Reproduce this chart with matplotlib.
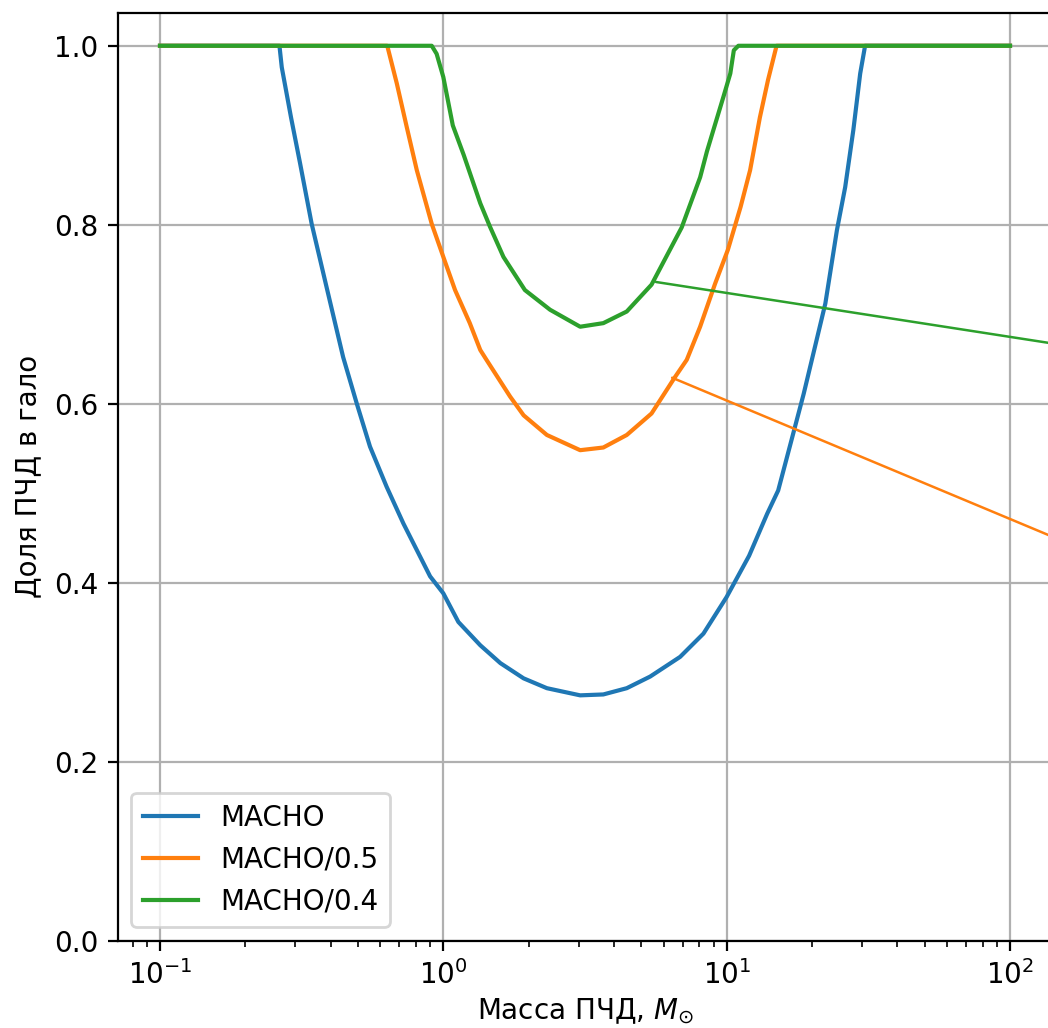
import numpy as np
import matplotlib
matplotlib.use("Agg")
import matplotlib.pyplot as plt

# ============================
# Data
# ============================
mass_macho = [0.1, 0.264, 0.269, 0.290, 0.312, 0.343, 0.388, 0.443, 0.495, 0.551,
              0.631, 0.723, 0.898, 1.0, 1.13, 1.35, 1.59, 1.92, 2.32, 3.04,
              3.67, 4.44, 5.37, 6.85, 8.28, 10.0, 12.0, 13.9, 15.2, 16.7,
              18.7, 20.8, 22.3, 24.5, 26.2, 28.0, 29.6, 30.8, 100.0]
frac_macho = [1.0, 1.0, 0.976, 0.920, 0.869, 0.801, 0.729, 0.652, 0.600, 0.552,
              0.507, 0.466, 0.407, 0.388, 0.356, 0.330, 0.310, 0.293, 0.282, 0.274,
              0.275, 0.282, 0.295, 0.317, 0.343, 0.384, 0.430, 0.477, 0.503, 0.552,
              0.611, 0.672, 0.712, 0.794, 0.842, 0.906, 0.969, 1.0, 1.0]

mass_macho05 = [0.1, 0.634, 0.685, 0.743, 0.806, 0.910, 1.0, 1.10, 1.24, 1.35,
                1.42, 1.72, 1.92, 2.32, 3.04, 3.67, 4.44, 5.43, 6.58, 7.23,
                8.06, 9.10, 10.1, 11.2, 12.1, 13.1, 14.0, 15.0, 100.0]
frac_macho05 = [1.0, 1.0, 0.958, 0.909, 0.861, 0.801, 0.764, 0.727, 0.690, 0.660,
                0.649, 0.608, 0.587, 0.565, 0.548, 0.551, 0.565, 0.589, 0.630, 0.649,
                0.686, 0.734, 0.772, 0.820, 0.861, 0.920, 0.962, 1.0, 1.0]

mass_macho04 = [0.1, 0.910, 0.947, 1.0, 1.08, 1.18, 1.35, 1.46, 1.63, 1.94,
                2.38, 3.04, 3.67, 4.44, 5.43, 6.94, 8.06, 8.52, 8.98, 9.74,
                10.3, 10.6, 11.0, 100.0]
frac_macho04 = [1.0, 1.0, 0.991, 0.965, 0.911, 0.878, 0.824, 0.798, 0.764, 0.727,
                0.705, 0.686, 0.690, 0.703, 0.733, 0.797, 0.853, 0.882, 0.906, 0.943,
                0.969, 0.995, 1.0, 1.0]

series_labels = ["MACHO", "MACHO/0.5", "MACHO/0.4"]

# connector lines leaving the axes to the right
link_points = [(5.63, 0.736), (6.42, 0.629)]
link_ends = [(1.3, 0.597), (1.3, 0.309)]
link_colors = ["C2", "C1"]

# ============================
# Plot
# ============================
W, H, DPI = 1048, 1028, 200
fig = plt.figure(figsize=(W / DPI, H / DPI), dpi=DPI)
ax = fig.add_axes([117.5 / W, (H - 940.5) / H, 935 / W, 927.2 / H])

ax.plot(mass_macho, frac_macho, label=series_labels[0])
ax.plot(mass_macho05, frac_macho05, label=series_labels[1])
ax.plot(mass_macho04, frac_macho04, label=series_labels[2])

ax.set_xscale("log")
ax.set_ylim(bottom=0)
ax.set_xlabel(r"Масса ПЧД, $M_{\odot}$", labelpad=2.5)
ax.set_ylabel("Доля ПЧД в гало")
ax.grid(True)
ax.legend(loc="lower left")

for (px, py), (ex, ey), col in zip(link_points, link_ends, link_colors):
    ax.annotate("", xy=(px, py), xycoords="data",
                xytext=(ex, ey), textcoords="axes fraction",
                arrowprops=dict(arrowstyle="-", color=col, lw=0.9,
                                shrinkA=0, shrinkB=0))

fig.savefig("out.png", dpi=DPI)
